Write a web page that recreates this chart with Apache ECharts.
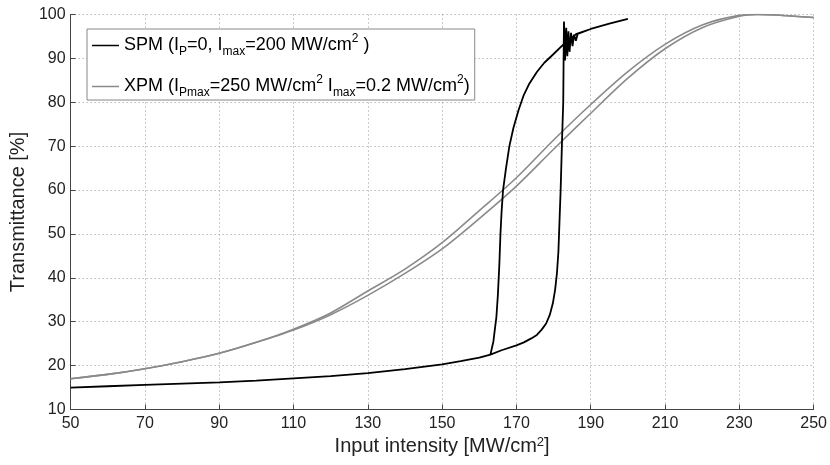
<!DOCTYPE html>
<html>
<head>
<meta charset="utf-8">
<script src="https://cdn.jsdelivr.net/npm/echarts@6/dist/echarts.min.js"></script>
<style>
html,body{margin:0;padding:0;background:#fff;}
#main{width:830px;height:465px;}
</style>
</head>
<body>
<div id="main"></div>
<script>
// XPM: two grey curves (forward / backward sweep)
var xpmX = [50,60,70,80,90,100,110,120,130,140,150,160,170,180,190,200,210,220,230,235,240,250];
var xpmA = [17.0,18.0,19.3,20.9,22.8,25.3,28.3,32.0,37.0,42.0,48.0,55.3,62.8,71.4,79.5,87.0,93.2,97.6,99.8,100.0,99.9,99.3];
var xpmB = [17.0,18.0,19.3,20.9,22.8,25.3,28.1,31.6,36.0,41.0,46.6,53.5,60.9,69.3,77.5,85.5,92.2,97.0,99.6,100.0,99.9,99.3];

// SPM: black hysteresis loop, up sweep then down sweep
var spmX = [50,60,70,80,90,100,110,120,130,140,150,155,160,163,166,170,172,174,175.5,176.8,178,179,179.8,180.4,180.9,181.3,181.6,181.9,182.3,182.6,182.7,182.8,
	183.1,183.4,183.7,184.0,184.3,184.7,185.1,185.5,186.0,186.5,190,195,200,
	195,190,186.2,182.8,180,177.5,175.5,173.5,172,170.6,169.2,168.1,167.2,166.4,166.0,165.7,165.4,165.0,164.6,164.3,163.8,163];
var spmY = [15.0,15.3,15.6,15.9,16.2,16.6,17.1,17.6,18.3,19.2,20.3,21.0,21.8,22.5,23.5,24.6,25.3,26.2,27.0,28.2,29.6,31.6,34.2,37.2,41,46,53,60,72,80,90,98.4,
	89.5,97.0,90.5,96.2,91.5,95.8,92.8,95.4,94.0,95.6,96.7,97.9,99.0,
	97.9,96.7,95.6,93.3,91.0,89.0,86.9,84.3,81.7,78.3,74.2,70.0,65.0,60.0,55.0,50.0,43.0,36.0,31.0,29.0,25.5,22.5];

var xTicks = {min:50, max:250, step:20};
var yTicks = {min:10, max:100, step:10};

function pairs(xs, ys){
	var out = [];
	for(var i=0;i<xs.length;i++){ out.push([xs[i], ys[i]]); }
	return out;
}

var font = 'Liberation Sans, Arial, Helvetica, sans-serif';
var rich = {
	sub:{fontSize:12, fontFamily:font, color:'#000', lineHeight:12, verticalAlign:'bottom'},
	sup:{fontSize:12, fontFamily:font, color:'#000', lineHeight:12, verticalAlign:'top'}
};

var myChart = echarts.init(document.getElementById('main'));
var option = {
	animation:false,
	backgroundColor:'#fff',
	grid:{left:68, right:15, top:14.5, bottom:55.5},
	legend:{
		data:['SPM','XPM'],
		orient:'vertical',
		left:87, top:29,
		padding:[4,5,1,5],
		itemGap:16,
		itemWidth:27,
		itemHeight:1.5,
		icon:'rect',
		backgroundColor:'#fff',
		borderColor:'#888',
		borderWidth:1,
		borderRadius:0,
		textStyle:{fontSize:18, fontFamily:font, color:'#000', lineHeight:25, rich:rich},
		formatter:function(name){
			if(name == 'SPM'){
				return 'SPM (I{sub|P}=0, I{sub|max}=200 MW/cm{sup|2} )';
			}
			return 'XPM (I{sub|Pmax}=250 MW/cm{sup|2} I{sub|max}=0.2 MW/cm{sup|2})';
		}
	},
	xAxis:{
		type:'value',
		min:xTicks.min, max:xTicks.max, interval:xTicks.step,
		name:'Input intensity [MW/cm{sup|2}]',
		nameLocation:'middle',
		nameGap:26,
		nameTextStyle:{fontSize:20, fontFamily:font, color:'#222',
			rich:{sup:{fontSize:13, fontFamily:font, color:'#222', lineHeight:13, verticalAlign:'top'}}},
		axisLine:{onZero:false, lineStyle:{color:'#444', width:1}},
		axisTick:{inside:true, length:5, lineStyle:{color:'#444'}},
		axisLabel:{fontSize:16, fontFamily:font, color:'#222', margin:6},
		splitLine:{show:true, lineStyle:{color:'#999', type:[1,3], width:1}}
	},
	yAxis:{
		type:'value',
		min:yTicks.min, max:yTicks.max, interval:yTicks.step,
		name:'Transmittance [%]',
		nameLocation:'middle',
		nameGap:35,
		nameTextStyle:{fontSize:20, fontFamily:font, color:'#222'},
		axisLine:{show:true, lineStyle:{color:'#444', width:1}},
		axisTick:{show:true, inside:true, length:5, lineStyle:{color:'#444'}},
		axisLabel:{fontSize:16, fontFamily:font, color:'#222', margin:5},
		splitLine:{show:true, lineStyle:{color:'#999', type:[1,3], width:1}}
	},
	series:[
		{
			name:'XPM', type:'line', symbol:'none', smooth:0.3,
			lineStyle:{color:'#8a8a8a', width:1.6}, itemStyle:{color:'#8a8a8a'},
			data:pairs(xpmX, xpmA), z:2
		},
		{
			name:'XPM', type:'line', symbol:'none', smooth:0.3,
			lineStyle:{color:'#8a8a8a', width:1.6}, itemStyle:{color:'#8a8a8a'},
			data:pairs(xpmX, xpmB), z:2
		},
		{
			name:'SPM', type:'line', symbol:'none',
			lineStyle:{color:'#000', width:1.8}, itemStyle:{color:'#000'},
			data:pairs(spmX, spmY), z:3
		}
	]
};
myChart.setOption(option);
</script>
</body>
</html>
